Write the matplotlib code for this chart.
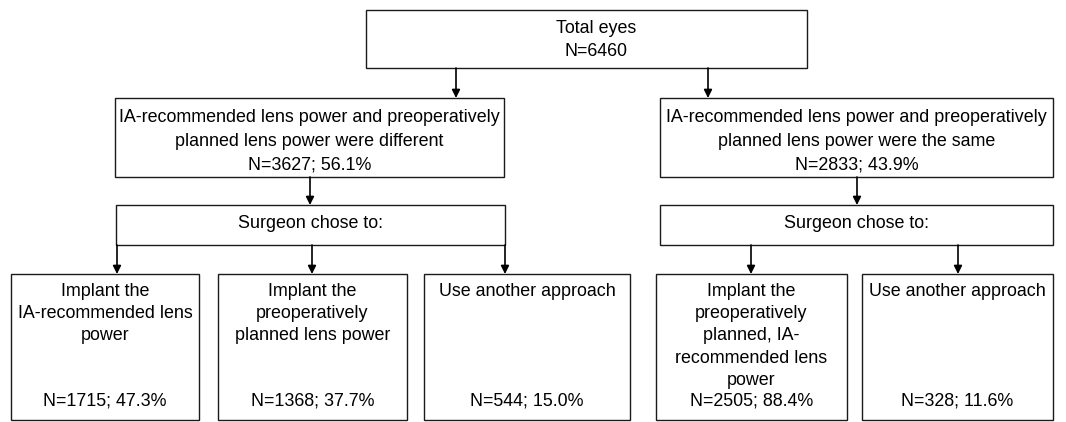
import matplotlib.pyplot as plt

plt.rcParams['font.family'] = ['Liberation Sans', 'DejaVu Sans']

# box texts
top_text = 'Total eyes\nN=6460'
mid_texts = ['IA-recommended lens power and preoperatively\nplanned lens power were different\nN=3627; 56.1%',
             'IA-recommended lens power and preoperatively\nplanned lens power were the same\nN=2833; 43.9%']
surgeon_text = 'Surgeon chose to:'
leaf_labels = ['Implant the\nIA-recommended lens\npower',
               'Implant the\npreoperatively\nplanned lens power',
               'Use another approach',
               'Implant the\npreoperatively\nplanned, IA-\nrecommended lens\npower',
               'Use another approach']
leaf_n = [1715, 1368, 544, 2505, 328]
leaf_pct = [47.3, 37.7, 15.0, 88.4, 11.6]

# layout (pixels): x0, x1, y0, y1
top_box = (366, 807, 10, 68)
mid_boxes = [(115, 504, 98, 177), (660, 1053, 98, 177)]
surg_boxes = [(116, 505, 205, 245), (660, 1053, 205, 245)]
leaf_boxes = [(11, 199, 274, 420), (218, 407, 274, 420), (424, 630, 274, 420),
              (656, 847, 274, 420), (862, 1053, 274, 420)]
leaf_arrow_x = [117, 312, 505, 751, 958]

fig = plt.figure(figsize=[10.66, 4.22], dpi=100)
ax = fig.add_axes([0, 0, 1, 1])
ax.set_xlim(0, 1066)
ax.set_ylim(422, 0)
ax.axis('off')

fs = 12.9
ec = '#1a1a1a'


def box(b):
    x0, x1, y0, y1 = b
    ax.add_patch(plt.Rectangle((x0, y0), x1 - x0, y1 - y0, fill=False, ec=ec, lw=1.0))


def arrow(x, y0, y1):
    ax.annotate('', xy=(x, y1), xytext=(x, y0),
                arrowprops=dict(arrowstyle='-|>', color='black', lw=1.2,
                                mutation_scale=12, shrinkA=0, shrinkB=0))


box(top_box)
ax.text(596, 40, top_text, ha='center', va='center', fontsize=fs, linespacing=1.4)

for b, t in zip(mid_boxes, mid_texts):
    box(b)
    ax.text((b[0] + b[1]) / 2, (b[2] + b[3]) / 2 + 4, t, ha='center', va='center',
            fontsize=fs, linespacing=1.5)

arrow(456, top_box[3], mid_boxes[0][2])
arrow(708, top_box[3], mid_boxes[1][2])
arrow(310, mid_boxes[0][3], surg_boxes[0][2])
arrow(857, mid_boxes[1][3], surg_boxes[1][2])

for b in surg_boxes:
    box(b)
    ax.text((b[0] + b[1]) / 2, (b[2] + b[3]) / 2 - 1, surgeon_text, ha='center', va='center',
            fontsize=fs)

for i, b in enumerate(leaf_boxes):
    box(b)
    src = surg_boxes[0] if i < 3 else surg_boxes[1]
    arrow(leaf_arrow_x[i], src[3], b[2])
    cx = (b[0] + b[1]) / 2
    ax.text(cx, b[2] + 9, leaf_labels[i], ha='center', va='top', fontsize=fs, linespacing=1.4)
    ax.text(cx, 401, 'N=%d; %.1f%%' % (leaf_n[i], leaf_pct[i]), ha='center', va='center',
            fontsize=fs)

fig.savefig('out.png', dpi=100)
